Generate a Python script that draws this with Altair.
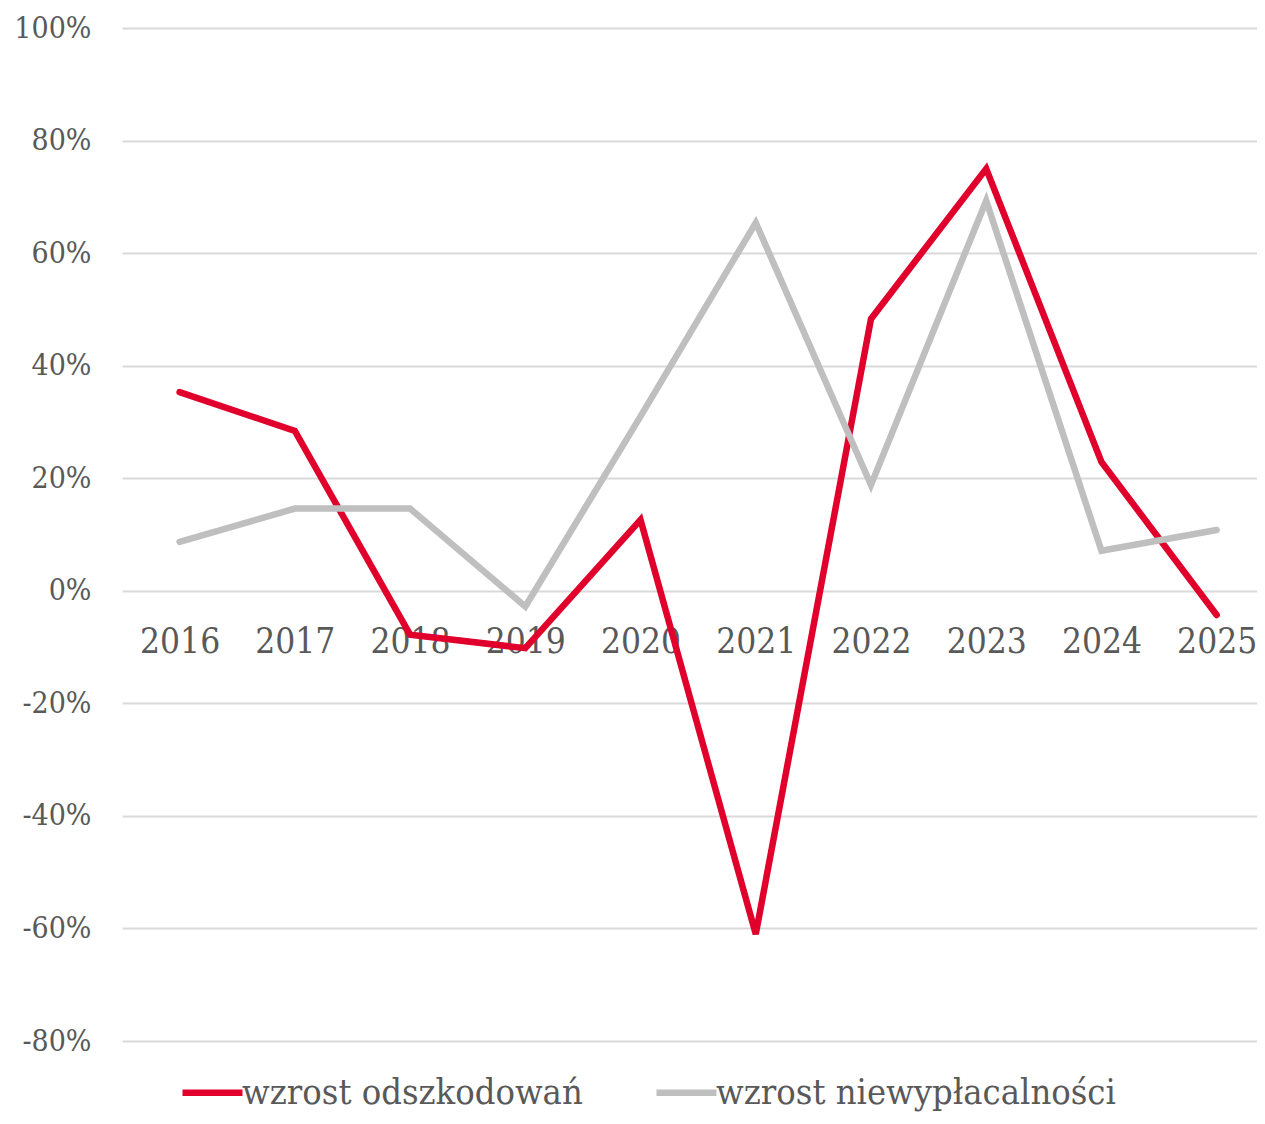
import altair as alt
import pandas as pd

years = [2016, 2017, 2018, 2019, 2020, 2021, 2022, 2023, 2024, 2025]
claims = [35.3, 28.4, -7.8, -10.2, 12.6, -61.0, 48.3, 75.0, 22.9, -4.3]
insolv = [8.7, 14.6, 14.6, -2.8, 31.0, 65.4, 18.8, 69.3, 7.1, 10.8]
series = ["wzrost odszkodowań", "wzrost niewypłacalności"]
colors = ["#e0002b", "#bfbfbf"]
y_ticks = [-80, -60, -40, -20, 0, 20, 40, 60, 80, 100]

rows = []
for i, yr in enumerate(years):
    rows.append({"year": yr, "value": claims[i], "series": series[0], "order": 0})
for i, yr in enumerate(years):
    rows.append({"year": yr, "value": insolv[i], "series": series[1], "order": 1})
df = pd.DataFrame(rows)

FONT = "DejaVu Serif Condensed, DejaVu Serif"

chart = alt.Chart(df).mark_line(strokeWidth=6.5, strokeCap="round", strokeJoin="miter").encode(
    x=alt.X("year:Q",
            scale=alt.Scale(domain=[2015.5, 2025.35], nice=False, zero=False),
            axis=alt.Axis(values=years, format="d", title=None, grid=False, domain=False,
                          ticks=False, offset=-451, labelPadding=34, labelFontSize=35,
                          labelFont=FONT, labelColor="#595959", labelFlush=False)),
    y=alt.Y("value:Q",
            scale=alt.Scale(domain=[-80, 100], nice=False),
            axis=alt.Axis(values=y_ticks, labelExpr="datum.value + '%'", title=None,
                          domain=False, ticks=False, labelPadding=31, labelFontSize=30,
                          labelFont=FONT, labelColor="#595959", gridColor="#d9d9d9",
                          gridWidth=2, minExtent=114, maxExtent=114)),
    color=alt.Color("series:N",
                    scale=alt.Scale(domain=series, range=colors),
                    legend=alt.Legend(title=None, orient="none", direction="horizontal",
                                      legendX=57, legendY=1031, symbolType="stroke",
                                      symbolSize=3600, symbolStrokeWidth=6.5,
                                      labelFont=FONT, labelFontSize=36, labelColor="#595959",
                                      labelOffset={"expr": "-4"}, columnPadding=60, padding=0,
                                      labelLimit=600)),
    order="order:Q",
    detail="series:N",
).properties(
    width=1135,
    height=1013,
    autosize=alt.AutoSizeParams(type="none"),
    padding={"left": 114, "top": 20, "right": 0, "bottom": 75},
).configure_view(stroke=None)

chart.save("out.html", embed_options={"renderer": "svg", "actions": False})
